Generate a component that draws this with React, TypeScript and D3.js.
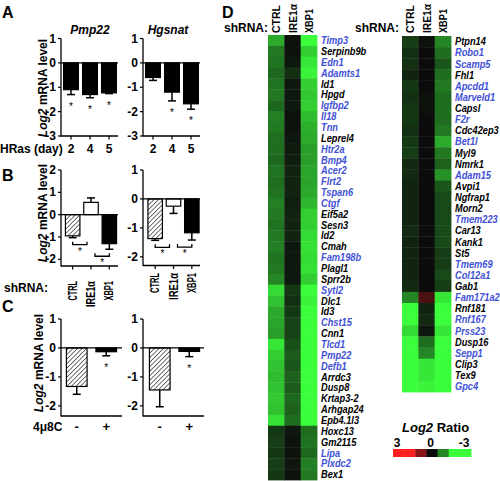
import React from "react";
import * as d3 from "d3";

const FONT = "'Liberation Sans', Arial, Helvetica, sans-serif";

// ---------- Panel A ----------
const hrasDays = ["2", "4", "5"];
const pmp22Hras = [-1.1, -1.3, -1.23];
const pmp22HrasErr = [0.2, 0.13, 0.03];
const hgsnatHras = [-0.6, -1.2, -1.68];
const hgsnatHrasErr = [0.12, 0.36, 0.22];
const hrasTicks = [1, 0, -1, -2, -3];

// ---------- Panel B ----------
const shrnaGroups = ["CTRL", "IRE1α", "XBP1"];
const pmp22Sh = [-0.95, 0.55, -1.3];
const pmp22ShErr = [0.08, 0.2, 0.25];
const hgsnatSh = [-1.37, -0.25, -1.17];
const hgsnatShErr = [0.06, 0.25, 0.25];
const shPairs = [[0, 1], [1, 2]];
const pmp22ShTicks = [2, 1, 0, -1, -2];
const hgsnatShTicks = [1, 0, -1, -2];

// ---------- Panel C ----------
const inhibitor = ["-", "+"];
const pmp22Inh = [-1.33, -0.13];
const pmp22InhErr = [0.27, 0.14];
const hgsnatInh = [-1.45, -0.12];
const hgsnatInhErr = [0.58, 0.18];
const inhTicks = [1, 0, -1, -2];

// ---------- Panel D ----------
const heatCols = ["CTRL", "IRE1α", "XBP1"];
const leftGenes = ["Timp3", "Serpinb9b", "Edn1", "Adamts1", "Id1", "Hpgd", "Igfbp2", "Il18", "Tnn", "Leprel4", "Htr2a", "Bmp4", "Acer2", "Flrt2", "Tspan6", "Ctgf", "Eif5a2", "Sesn3", "Id2", "Cmah", "Fam198b", "Plagl1", "Sprr2b", "Sytl2", "Dlc1", "Id3", "Chst15", "Cnn1", "Tlcd1", "Pmp22", "Defb1", "Arrdc3", "Dusp8", "Krtap3-2", "Arhgap24", "Epb4.1l3", "Hoxc13", "Gm2115", "Lipa", "Plxdc2", "Bex1"];
const leftCtrl = [-1.3, -0.9, -0.85, -0.75, -0.85, -0.9, -0.75, -0.95, -0.9, -0.8, -0.8, -0.75, -0.85, -0.8, -0.85, -0.95, -0.9, -0.85, -0.9, -0.95, -0.85, -0.9, -1.0, -1.7, -1.5, -1.3, -1.25, -1.2, -1.8, -1.6, -1.5, -1.45, -1.5, -1.55, -1.5, -1.75, -0.35, -0.4, -0.35, -0.4, -0.35];
const leftIre = [-0.05, -0.05, -0.1, -0.3, -0.1, -0.1, -0.1, -0.05, -0.05, -0.1, -0.12, -0.15, -0.2, -0.2, -0.2, -0.15, -0.2, -0.2, -0.2, -0.1, -0.1, -0.1, -0.1, -0.35, -0.3, -0.35, -0.45, -0.45, -0.55, -0.65, -0.6, -0.7, -0.65, -0.75, -0.7, -0.8, -0.1, -0.05, -0.05, -0.08, -0.05];
const leftXbp = [-2, -1.6, -1.8, -1.9, -1.6, -1.55, -1.6, -1.45, -1.35, -1.3, -1.2, -1.2, -1.25, -1.25, -1.3, -1.4, -1.6, -1.6, -1.7, -1.75, -1.7, -1.75, -1.6, -2, -1.9, -2, -2, -2, -2, -2, -2, -2, -2, -2, -2, -2, -0.8, -0.85, -0.75, -0.95, -0.9];
const rightGenes = ["Ptpn14", "Robo1", "Scamp5", "Fhl1", "Apcdd1", "Marveld1", "Capsl", "F2r", "Cdc42ep3", "Bet1l", "Myl9", "Nmrk1", "Adam15", "Avpi1", "Ngfrap1", "Morn2", "Tmem223", "Car13", "Kank1", "St5", "Tmem69", "Col12a1", "Gab1", "Fam171a2", "Rnf181", "Rnf167", "Prss23", "Dusp16", "Sepp1", "Clip3", "Tex9", "Gpc4"];
const rightCtrl = [-0.4, -0.3, -0.3, -0.2, -0.35, -0.3, -0.35, -0.35, -0.3, -0.35, -0.4, -0.25, -0.25, -0.2, -0.2, -0.2, -0.2, -0.25, -0.2, -0.2, -0.2, -0.2, -0.25, -1.0, -2, -2, -1.7, -2, -2, -2, -2, -2];
const rightIre = [-0.05, 0, 0, 0, 0, -0.05, -0.05, 0, 0, 0, 0, 0, 0, 0, 0, 0, 0, 0, 0, 0, 0, 0, 0, 0.5, -0.2, -0.25, -0.1, -0.8, -1.0, -1.8, -1.8, -1.9];
const rightXbp = [-1.0, -0.8, -0.6, -0.8, -0.9, -0.8, -0.8, -0.8, -0.9, -1.3, -0.9, -0.7, -1.1, -0.6, -0.5, -0.5, -0.5, -0.5, -0.5, -0.4, -0.4, -0.5, -0.4, -1.8, -2, -2, -1.8, -2, -2, -2, -2, -2];
const blueGenes = ["Timp3", "Edn1", "Adamts1", "Igfbp2", "Il18", "Tnn", "Htr2a", "Bmp4", "Acer2", "Flrt2", "Tspan6", "Ctgf", "Fam198b", "Sytl2", "Chst15", "Tlcd1", "Pmp22", "Defb1", "Lipa", "Plxdc2", "Robo1", "Scamp5", "Apcdd1", "Marveld1", "F2r", "Bet1l", "Adam15", "Tmem223", "Tmem69", "Col12a1", "Fam171a2", "Rnf167", "Prss23", "Sepp1", "Gpc4"];
const legendValues = [3, 2, 1, 0, -1, -2, -3];
const legendLabels = ["3", "0", "-3"];

const heatColor = d3
  .scaleLinear<string>()
  .domain([2, 0, -2])
  .range(["#ff2020", "#0c0c0c", "#3cff3c"])
  .clamp(true);

const BLUE = "#3f51d6";

type BarProps = {
  cats: string[];
  values: number[];
  errs: number[];
  fills: string[];
  domain: [number, number];
  ticks: number[];
  xRange: [number, number];
  yRange: [number, number];
  axisX: number;
  xEnd: number;
  padding: number;
  stars?: boolean[];
  pairs?: number[][];
  labelMode: "plain" | "rotated" | "sign";
  labelTop?: number;
  labelLens?: number[];
};

function BarPanel(p: BarProps) {
  const y = d3.scaleLinear().domain(p.domain).range(p.yRange);
  const x = d3
    .scaleBand<string>()
    .domain(p.cats)
    .range(p.xRange)
    .paddingInner(p.padding)
    .paddingOuter(p.padding / 2);
  const bw = x.bandwidth();
  const y0 = y(0);
  const yBot = y(p.domain[0]);
  const yTop = y(p.domain[1]);
  const errEnd = (i: number) => {
    const v = p.values[i];
    return y(v + Math.sign(v) * p.errs[i]);
  };
  return (
    <g fontFamily={FONT} fontWeight="bold">
      {p.cats.map((c, i) => {
        const v = p.values[i];
        const yv = y(v);
        const cx = (x(c) as number) + bw / 2;
        const ye = errEnd(i);
        return (
          <g key={c}>
            <line x1={cx} x2={cx} y1={yv} y2={ye} stroke="#000" strokeWidth={1.5} />
            <line x1={cx - 4} x2={cx + 4} y1={ye} y2={ye} stroke="#000" strokeWidth={1.5} />
            <rect
              x={x(c)}
              y={Math.min(yv, y0)}
              width={bw}
              height={Math.abs(yv - y0)}
              fill={p.fills[i]}
              stroke="#000"
              strokeWidth={1.2}
            />
            {p.stars && p.stars[i] ? (
              <text x={cx} y={ye + 15} textAnchor="middle" fontSize={10} fontWeight="normal" fill="#000">
                *
              </text>
            ) : null}
          </g>
        );
      })}
      {(p.pairs || []).map(([a, b], k) => {
        const xa = (x(p.cats[a]) as number) + bw / 2 + (k === 0 ? 0 : 4);
        const xb = (x(p.cats[b]) as number) + bw / 2 - (k === 0 ? 4 : 0);
        const by = Math.max(errEnd(a), errEnd(b), y0) + 7;
        return (
          <g key={k}>
            <path
              d={`M${xa},${by - 3}V${by}H${xb}V${by - 3}`}
              fill="none"
              stroke="#000"
              strokeWidth={1.3}
            />
            <text x={(xa + xb) / 2} y={by + 10} textAnchor="middle" fontSize={10} fontWeight="normal">
              *
            </text>
          </g>
        );
      })}
      <line x1={p.axisX} x2={p.xEnd} y1={y0} y2={y0} stroke="#000" strokeWidth={1.3} />
      <line x1={p.axisX} x2={p.axisX} y1={yBot + 0.6} y2={yTop} stroke="#000" strokeWidth={1.3} />
      {p.ticks.map((t) => (
        <g key={t}>
          <line x1={p.axisX - 3} x2={p.axisX} y1={y(t)} y2={y(t)} stroke="#000" strokeWidth={1.2} />
          <text x={p.axisX - 5} y={y(t) + 4} textAnchor="end" fontSize={12}>
            {t}
          </text>
        </g>
      ))}
      <line x1={p.axisX} x2={p.xEnd} y1={yBot} y2={yBot} stroke="#000" strokeWidth={1.3} />
      {p.cats.map((c, i) => {
        const cx = (x(c) as number) + bw / 2;
        if (p.labelMode === "sign") {
          return (
            <text key={c} x={cx} y={yBot + 15} textAnchor="middle" fontSize={13}>
              {c}
            </text>
          );
        }
        return (
          <g key={c}>
            <line x1={cx} x2={cx} y1={yBot} y2={yBot + 3.5} stroke="#000" strokeWidth={1.2} />
            {p.labelMode === "plain" ? (
              <text x={cx} y={yBot + 17} textAnchor="middle" fontSize={12}>
                {c}
              </text>
            ) : (
              <text
                transform={`translate(${cx + 4},${p.labelTop}) rotate(-90)`}
                textAnchor="end"
                fontSize={12}
                textLength={p.labelLens ? p.labelLens[i] : undefined}
                lengthAdjust="spacingAndGlyphs"
              >
                {c}
              </text>
            )}
          </g>
        );
      })}
    </g>
  );
}

function YTitle({ x, y }: { x: number; y: number }) {
  return (
    <text
      transform={`translate(${x},${y}) rotate(-90)`}
      textAnchor="middle"
      fontFamily={FONT}
      fontWeight="bold"
      fontSize={12}
    >
      <tspan fontStyle="italic">Log2</tspan> mRNA level
    </text>
  );
}

type HeatProps = {
  genes: string[];
  ctrl: number[];
  ire: number[];
  xbp: number[];
  xRange: [number, number];
  yRange: [number, number];
  labelX: number;
  headerBottom: number;
  headerLens: number[];
  shX: number;
};

function Heatmap(p: HeatProps) {
  const x = d3.scaleBand<string>().domain(heatCols).range(p.xRange);
  const y = d3.scaleBand<string>().domain(p.genes).range(p.yRange);
  const cols = [p.ctrl, p.ire, p.xbp];
  return (
    <g fontFamily={FONT} fontWeight="bold">
      {heatCols.map((c, ci) =>
        p.genes.map((g, gi) => (
          <rect
            key={c + g}
            x={x(c)}
            y={y(g)}
            width={x.bandwidth() + 0.4}
            height={y.bandwidth() + 0.4}
            fill={heatColor(cols[ci][gi])}
          />
        ))
      )}
      {p.genes.map((g) => (
        <text
          key={g}
          transform={`translate(${p.labelX},${(y(g) as number) + y.bandwidth() / 2 + 3.7}) scale(0.9,1)`}
          fontSize={10.3}
          fontStyle="italic"
          fill={blueGenes.includes(g) ? BLUE : "#000"}
        >
          {g}
        </text>
      ))}
      {heatCols.map((c, i) => (
        <text
          key={c}
          transform={`translate(${(x(c) as number) + x.bandwidth() / 2 + 4},${p.headerBottom}) rotate(-90)`}
          textAnchor="start"
          fontSize={11}
          textLength={p.headerLens[i]}
          lengthAdjust="spacingAndGlyphs"
        >
          {c}
        </text>
      ))}
      <text x={p.shX} y={32} textAnchor="end" fontSize={12}>
        shRNA:
      </text>
    </g>
  );
}

function Legend() {
  const x = d3.scaleBand<string>().domain(legendValues.map(String)).range([393, 471]);
  const lx = d3.scalePoint<string>().domain(legendLabels).range([397, 464]);
  return (
    <g fontFamily={FONT} fontWeight="bold">
      <text x={402} y={432} fontSize={13}>
        <tspan fontStyle="italic">Log2</tspan> Ratio
      </text>
      {legendLabels.map((l) => (
        <text key={l} x={lx(l)} y={447} textAnchor="middle" fontSize={12}>
          {l}
        </text>
      ))}
      {legendValues.map((v) => (
        <rect
          key={v}
          x={x(String(v))}
          y={449}
          width={x.bandwidth() + 0.4}
          height={8}
          fill={heatColor(v)}
        />
      ))}
    </g>
  );
}

export default function App() {
  const HATCH = "url(#hatch)";
  return (
    <svg
      width={500}
      height={481}
      style={{ position: "absolute", left: 0, top: 0, background: "#fff" }}
    >
      <defs>
        <pattern
          id="hatch"
          patternUnits="userSpaceOnUse"
          width={3.2}
          height={3.2}
          patternTransform="rotate(45)"
        >
          <rect width={3.2} height={3.2} fill="#fff" />
          <line x1={0} y1={0} x2={0} y2={3.2} stroke="#000" strokeWidth={1.1} />
        </pattern>
      </defs>
      <rect width={500} height={481} fill="#fff" />

      <g fontFamily={FONT} fontWeight="bold" fontSize={16}>
        <text x={2} y={18}>A</text>
        <text x={2} y={181}>B</text>
        <text x={2} y={312}>C</text>
        <text x={222} y={18}>D</text>
      </g>

      {/* Panel A */}
      <g fontFamily={FONT} fontWeight="bold" fontSize={12} fontStyle="italic">
        <text x={90} y={34} textAnchor="middle">Pmp22</text>
        <text x={168} y={34} textAnchor="middle">Hgsnat</text>
      </g>
      <YTitle x={47} y={88} />
      <BarPanel
        cats={hrasDays}
        values={pmp22Hras}
        errs={pmp22HrasErr}
        fills={["#000", "#000", "#000"]}
        domain={[-3, 1]}
        ticks={hrasTicks}
        xRange={[61.5, 118.5]}
        yRange={[136, 38.5]}
        axisX={61}
        xEnd={118}
        padding={0.22}
        stars={[true, true, true]}
        labelMode="plain"
      />
      <BarPanel
        cats={hrasDays}
        values={hgsnatHras}
        errs={hgsnatHrasErr}
        fills={["#000", "#000", "#000"]}
        domain={[-3, 1]}
        ticks={hrasTicks}
        xRange={[143.5, 200.5]}
        yRange={[136, 38.5]}
        axisX={143}
        xEnd={200}
        padding={0.22}
        stars={[false, true, true]}
        labelMode="plain"
      />
      <text x={0} y={153} fontFamily={FONT} fontWeight="bold" fontSize={12}>
        HRas (day)
      </text>

      {/* Panel B */}
      <YTitle x={47} y={213} />
      <BarPanel
        cats={shrnaGroups}
        values={pmp22Sh}
        errs={pmp22ShErr}
        fills={[HATCH, "#fff", "#000"]}
        domain={[-2.3, 2]}
        ticks={pmp22ShTicks}
        xRange={[63.5, 118.5]}
        yRange={[266, 170]}
        axisX={61}
        xEnd={118}
        padding={0.21}
        pairs={shPairs}
        labelMode="rotated"
        labelTop={281}
        labelLens={[19.5, 26, 19.5]}
      />
      <BarPanel
        cats={shrnaGroups}
        values={hgsnatSh}
        errs={hgsnatShErr}
        fills={[HATCH, "#fff", "#000"]}
        domain={[-2.3, 1]}
        ticks={hgsnatShTicks}
        xRange={[146, 201]}
        yRange={[265.5, 170]}
        axisX={143}
        xEnd={200}
        padding={0.21}
        pairs={shPairs}
        labelMode="rotated"
        labelTop={273}
        labelLens={[20, 27, 20]}
      />
      <text x={4} y={292} fontFamily={FONT} fontWeight="bold" fontSize={12}>
        shRNA:
      </text>

      {/* Panel C */}
      <YTitle x={43} y={363} />
      <BarPanel
        cats={inhibitor}
        values={pmp22Inh}
        errs={pmp22InhErr}
        fills={[HATCH, "#000"]}
        domain={[-2.35, 1]}
        ticks={inhTicks}
        xRange={[62, 121]}
        yRange={[416, 319]}
        axisX={61}
        xEnd={122}
        padding={0.3}
        stars={[false, true]}
        labelMode="sign"
      />
      <BarPanel
        cats={inhibitor}
        values={hgsnatInh}
        errs={hgsnatInhErr}
        fills={[HATCH, "#000"]}
        domain={[-2.35, 1]}
        ticks={inhTicks}
        xRange={[145, 204]}
        yRange={[416, 319]}
        axisX={143}
        xEnd={204}
        padding={0.3}
        stars={[false, true]}
        labelMode="sign"
      />
      <text x={33} y={431} fontFamily={FONT} fontWeight="bold" fontSize={12}>
        4μ8C
      </text>

      {/* Panel D */}
      <Heatmap
        genes={leftGenes}
        ctrl={leftCtrl}
        ire={leftIre}
        xbp={leftXbp}
        xRange={[268, 317]}
        yRange={[35, 480]}
        labelX={321}
        headerBottom={33}
        headerLens={[28, 29, 24]}
        shX={268}
      />
      <Heatmap
        genes={rightGenes}
        ctrl={rightCtrl}
        ire={rightIre}
        xbp={rightXbp}
        xRange={[402, 451]}
        yRange={[36, 392]}
        labelX={455}
        headerBottom={33}
        headerLens={[28, 29, 24]}
        shX={399}
      />
      <Legend />
    </svg>
  );
}
